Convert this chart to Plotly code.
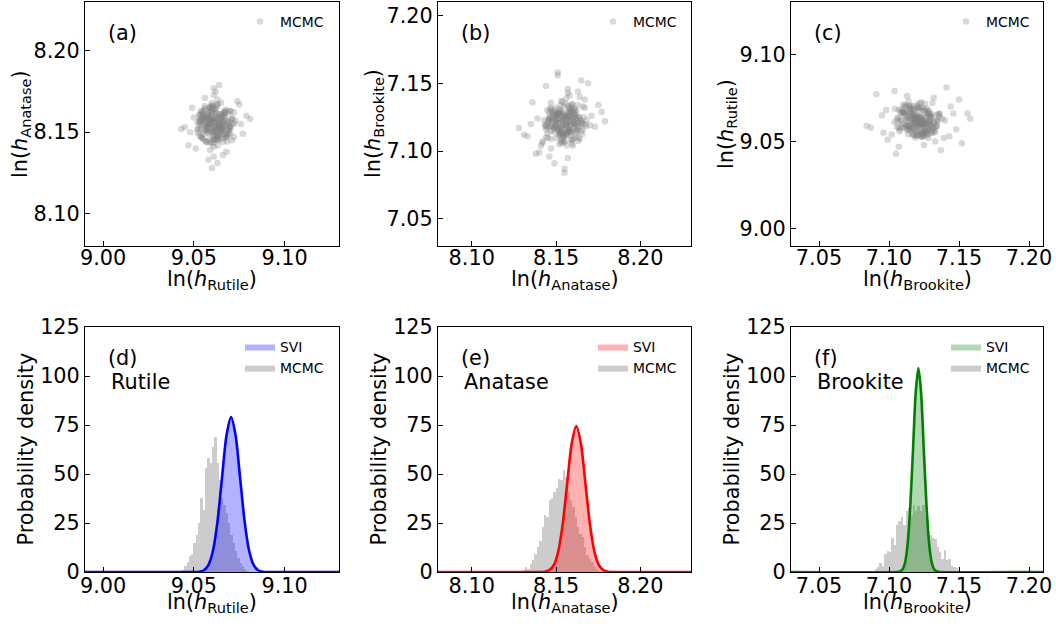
import plotly.graph_objects as go

# ---------------- data ----------------
# MCMC posterior samples (ln h) for the three phases (same sample index in each list)
rutile_samples = [
    9.062, 9.058, 9.066, 9.061, 9.055, 9.069, 9.063, 9.059, 9.064, 9.057,
    9.060, 9.067, 9.052, 9.071, 9.063, 9.061, 9.065, 9.056, 9.070, 9.062,
    9.054, 9.066, 9.059, 9.068, 9.064, 9.058, 9.060, 9.073, 9.050, 9.063,
    9.062, 9.057, 9.066, 9.061, 9.069, 9.055, 9.064, 9.059, 9.067, 9.062,
    9.053, 9.071, 9.060, 9.065, 9.058, 9.063, 9.076, 9.048, 9.061, 9.066,
    9.056, 9.064, 9.059, 9.068, 9.062, 9.054, 9.070, 9.060, 9.057, 9.065,
    9.079, 9.045, 9.063, 9.061, 9.058, 9.066, 9.051, 9.074, 9.062, 9.067,
    9.055, 9.063, 9.060, 9.069, 9.057, 9.064, 9.059, 9.072, 9.053, 9.065,
    9.061, 9.056, 9.068, 9.049, 9.077, 9.062, 9.058, 9.066, 9.043, 9.081,
    9.060, 9.064, 9.055, 9.070, 9.047, 9.075, 9.059, 9.063, 9.067, 9.052,
    9.061, 9.065, 9.058, 9.062, 9.060, 9.064, 9.057, 9.066, 9.063, 9.059,
    9.061, 9.068, 9.054, 9.063, 9.060, 9.066, 9.056, 9.070, 9.062, 9.058,
    9.0573, 9.0648, 9.0536, 9.0691, 9.0617, 9.0584, 9.0662, 9.0549, 9.0706, 9.0602,
    9.0639, 9.0567, 9.0674, 9.0591, 9.0528, 9.0653, 9.0609, 9.0687, 9.0556, 9.0628,
    9.0579, 9.0716, 9.0544, 9.0633, 9.0598, 9.0669, 9.0521, 9.0645, 9.0587, 9.0612,
    9.0679, 9.0562, 9.0624, 9.0547, 9.0701, 9.0593, 9.0657, 9.0575, 9.0619, 9.0538,
    9.0684, 9.0604, 9.0651, 9.0569, 9.0637, 9.0724, 9.0558, 9.0613, 9.0666, 9.0531,
    9.0596, 9.0642, 9.0581, 9.0693, 9.0553, 9.0627, 9.0605, 9.0672, 9.0541, 9.0634,
    9.0589, 9.0711, 9.0566, 9.0621, 9.0658, 9.0534, 9.0601, 9.0677, 9.0572, 9.0646,
    9.0598, 9.0526, 9.0663, 9.0614, 9.0552, 9.0698, 9.0585, 9.0631, 9.0559, 9.0682,
    9.0608, 9.0646, 9.0539, 9.0594, 9.0721, 9.0577, 9.0638, 9.0563, 9.0655, 9.0616,
    9.0545, 9.0688, 9.0603, 9.0571, 9.0649, 9.0532, 9.0626, 9.0669, 9.0588, 9.0611,
    9.0548, 9.0703, 9.0597, 9.0641, 9.0564, 9.0622, 9.0676, 9.0583, 9.0537, 9.0659,
    9.0606, 9.0574, 9.0694, 9.0618, 9.0555, 9.0635, 9.0592, 9.0671, 9.0543, 9.0629,
]
anatase_samples = [
    8.156, 8.149, 8.160, 8.153, 8.158, 8.151, 8.146, 8.162, 8.155, 8.144,
    8.157, 8.163, 8.152, 8.158, 8.167, 8.141, 8.150, 8.156, 8.154, 8.160,
    8.147, 8.152, 8.165, 8.148, 8.161, 8.155, 8.143, 8.157, 8.159, 8.170,
    8.150, 8.153, 8.146, 8.158, 8.162, 8.149, 8.156, 8.139, 8.154, 8.164,
    8.157, 8.145, 8.151, 8.168, 8.160, 8.142, 8.155, 8.150, 8.173, 8.136,
    8.158, 8.152, 8.163, 8.147, 8.154, 8.161, 8.149, 8.166, 8.144, 8.157,
    8.160, 8.153, 8.131, 8.177, 8.155, 8.151, 8.140, 8.169, 8.148, 8.162,
    8.159, 8.145, 8.156, 8.153, 8.164, 8.150, 8.158, 8.147, 8.160, 8.154,
    8.135, 8.171, 8.138, 8.165, 8.149, 8.175, 8.133, 8.157, 8.152, 8.158,
    8.128, 8.179, 8.146, 8.163, 8.142, 8.167, 8.155, 8.151, 8.159, 8.156,
    8.148, 8.161, 8.153, 8.157, 8.150, 8.155, 8.159, 8.152, 8.154, 8.158,
    8.156, 8.150, 8.163, 8.147, 8.161, 8.144, 8.166, 8.152, 8.158, 8.155,
    8.1512, 8.1587, 8.1559, 8.1493, 8.1641, 8.1448, 8.1536, 8.1618, 8.1574, 8.1467,
    8.1529, 8.1603, 8.1482, 8.1656, 8.1541, 8.1597, 8.1438, 8.1563, 8.1509, 8.1672,
    8.1524, 8.1551, 8.1627, 8.1476, 8.1582, 8.1613, 8.1498, 8.1537, 8.1649, 8.1455,
    8.1571, 8.1516, 8.1592, 8.1463, 8.1628, 8.1548, 8.1487, 8.1609, 8.1527, 8.1578,
    8.1442, 8.1664, 8.1519, 8.1586, 8.1471, 8.1553, 8.1632, 8.1505, 8.1568, 8.1479,
    8.1621, 8.1533, 8.1594, 8.1512, 8.1547, 8.1658, 8.1451, 8.1601, 8.1522, 8.1576,
    8.1434, 8.1589, 8.1541, 8.1617, 8.1469, 8.1562, 8.1501, 8.1638, 8.1583, 8.1526,
    8.1679, 8.1514, 8.1557, 8.1461, 8.1605, 8.1532, 8.1571, 8.1492, 8.1646, 8.1548,
    8.1517, 8.1599, 8.1473, 8.1565, 8.1622, 8.1508, 8.1554, 8.1447, 8.1611, 8.1539,
    8.1591, 8.1484, 8.1634, 8.1523, 8.1569, 8.1612, 8.1458, 8.1544, 8.1596, 8.1503,
    8.1575, 8.1531, 8.1653, 8.1489, 8.1558, 8.1615, 8.1466, 8.1537, 8.1584, 8.1511,
    8.1642, 8.1497, 8.1563, 8.1528, 8.1606, 8.1452, 8.1577, 8.1624, 8.1542, 8.1587,
]
brookite_samples = [
    7.135, 7.116, 7.109, 7.129, 7.131, 7.121, 7.124, 7.113, 7.127, 7.118,
    7.125, 7.110, 7.128, 7.120, 7.138, 7.104, 7.117, 7.126, 7.111, 7.122,
    7.102, 7.116, 7.121, 7.126, 7.130, 7.107, 7.123, 7.114, 7.133, 7.119,
    7.121, 7.108, 7.129, 7.132, 7.115, 7.127, 7.119, 7.124, 7.112, 7.140,
    7.143, 7.110, 7.117, 7.123, 7.131, 7.106, 7.113, 7.125, 7.118, 7.136,
    7.116, 7.121, 7.134, 7.109, 7.124, 7.128, 7.114, 7.120, 7.148, 7.095,
    7.104, 7.137, 7.112, 7.129, 7.087, 7.156, 7.099, 7.150, 7.122, 7.126,
    7.130, 7.113, 7.121, 7.127, 7.118, 7.123, 7.115, 7.131, 7.125, 7.119,
    7.120, 7.126, 7.098, 7.152, 7.091, 7.134, 7.111, 7.146, 7.105, 7.141,
    7.117, 7.122, 7.096, 7.144, 7.107, 7.132, 7.084, 7.158, 7.108, 7.139,
    7.118, 7.120, 7.123, 7.116, 7.126, 7.121, 7.114, 7.128, 7.119, 7.124,
    7.124, 7.122, 7.118, 7.115, 7.127, 7.110, 7.133, 7.112, 7.129, 7.125,
    7.1264, 7.1138, 7.1195, 7.1227, 7.1089, 7.1302, 7.1171, 7.1243, 7.1152, 7.1318,
    7.1066, 7.1209, 7.1281, 7.1124, 7.1236, 7.1347, 7.1183, 7.1042, 7.1271, 7.1198,
    7.1129, 7.1255, 7.1163, 7.1294, 7.1217, 7.1101, 7.1189, 7.1362, 7.1146, 7.1228,
    7.1177, 7.1309, 7.1083, 7.1241, 7.1204, 7.1133, 7.1276, 7.1168, 7.1339, 7.1211,
    7.1158, 7.1249, 7.1115, 7.1287, 7.1192, 7.1231, 7.1074, 7.1268, 7.1143, 7.1222,
    7.1296, 7.1181, 7.1057, 7.1239, 7.1325, 7.1162, 7.1214, 7.1283, 7.1137, 7.1258,
    7.1196, 7.1121, 7.1273, 7.1208, 7.1356, 7.1172, 7.1094, 7.1247, 7.1155, 7.1301,
    7.1186, 7.1233, 7.1112, 7.1262, 7.1201, 7.1148, 7.1334, 7.1179, 7.1226, 7.1071,
    7.1291, 7.1164, 7.1243, 7.1117, 7.1219, 7.1277, 7.1132, 7.1198, 7.1312, 7.1059,
    7.1237, 7.1174, 7.1254, 7.1141, 7.1286, 7.1193, 7.1229, 7.1106, 7.1342, 7.1187,
    7.1256, 7.1169, 7.1213, 7.1298, 7.1126, 7.1241, 7.1184, 7.1087, 7.1266, 7.1157,
    7.1232, 7.1319, 7.1203, 7.1134, 7.1251, 7.1176, 7.1289, 7.1149, 7.1224, 7.1196,
]

# MCMC histograms (probability density): first bin centre, bin width, heights
rutile_hist_first = 9.0428
rutile_hist_width = 0.00127
rutile_hist_density = [0.5, 1, 3, 5.3, 8, 9, 14.8, 19, 25, 37.8, 31.8, 53, 58, 55.6, 64,
                       69, 55.6, 47, 37.8, 34, 30, 25, 19, 14.8, 10.5, 7, 4.6, 3, 1.6, 0.5]

anatase_hist_first = 8.1295
anatase_hist_width = 0.0014
anatase_hist_density = [0.5, 0.8, 2.5, 1.7, 4, 6, 9.3, 12.8, 16, 23, 29, 28, 36.6, 38, 41,
                        43, 47.6, 46.8, 51.9, 48.5, 41, 36.6, 33, 28, 23, 19.5, 17.9, 12.8,
                        8.5, 6.8, 5, 2.5, 1.5, 0.5]

brookite_hist_first = 7.0855
brookite_hist_width = 0.0017
brookite_hist_density = [0.3, 0.3, 0.5, 1.5, 2.5, 4.7, 3, 9, 10.7, 10, 17.6, 14, 24, 26, 28,
                         24, 31, 32.6, 29, 34, 31, 33.7, 31, 34, 28, 22, 19, 17.6, 16.8, 12.6,
                         10, 6.8, 11, 6, 6.8, 3, 2.5, 1.8, 1, 0.5]

# SVI posterior densities
rutile_svi_x = [8.99, 9.050, 9.053, 9.0555, 9.058, 9.0605, 9.063, 9.0655, 9.068, 9.0705,
                9.073, 9.0755, 9.078, 9.0805, 9.083, 9.0855, 9.088, 9.091, 9.13]
rutile_svi_y = [0, 0, 0.17, 0.88, 3.5, 10.7, 25.6, 47.9, 69.7, 79,
                69.7, 47.9, 25.6, 10.7, 3.5, 0.88, 0.17, 0, 0]
anatase_svi_x = [8.08, 8.140, 8.1431, 8.1458, 8.1485, 8.1512, 8.1539, 8.1566, 8.1593, 8.162,
                 8.1647, 8.1674, 8.1701, 8.1728, 8.1755, 8.1782, 8.1809, 8.184, 8.23]
anatase_svi_y = [0, 0, 0.16, 0.83, 3.3, 10.1, 24.2, 45.2, 65.7, 74.5,
                 65.7, 45.2, 24.2, 10.1, 3.3, 0.83, 0.16, 0, 0]
brookite_svi_x = [7.03, 7.105, 7.1076, 7.1095, 7.1114, 7.1133, 7.1152, 7.1172, 7.1191, 7.121,
                  7.1229, 7.1248, 7.1268, 7.1287, 7.1306, 7.1325, 7.1344, 7.137, 7.21]
brookite_svi_y = [0, 0, 0.23, 1.15, 4.6, 14.1, 33.8, 63.1, 91.8, 104,
                  91.8, 63.1, 33.8, 14.1, 4.6, 1.15, 0.23, 0, 0]

# axis ranges and ticks
rutile_range = [8.99, 9.13]
anatase_range = [8.08, 8.23]
brookite_range = [7.03, 7.21]
density_range = [0, 125]
rutile_ticks = [9.00, 9.05, 9.10]
anatase_ticks = [8.10, 8.15, 8.20]
brookite_ticks = [7.05, 7.10, 7.15, 7.20]
density_ticks = [0, 25, 50, 75, 100, 125]

phase_names = ["Rutile", "Anatase", "Brookite"]
panel_labels = ["(a)", "(b)", "(c)", "(d)", "(e)", "(f)"]
density_label = "Probability density"

# ---------------- styling ----------------
W, H = 1056, 630
FONT = "DejaVu Sans"
TICK_SIZE = 20.8
LEG_SIZE = 13.9
col_px = [(85, 339), (438, 691), (791, 1043)]   # px of frames
row_px = [(2, 246), (327, 572)]
xtitle_y = [280, 603]
ytitle_dx = [64, 60]
xlabel_standoff = [-7, -5]

def fx(px):
    return px / W

def fy(py):
    return 1 - py / H

def xdom(c):
    return [fx(col_px[c][0]), fx(col_px[c][1])]

def ydom(r):
    return [fy(row_px[r][1]), fy(row_px[r][0])]

def lnh(name):
    return "ln(<i>h</i><sub>%s</sub>)" % name

def axis(domain, rng, ticks, fmt, anchor, standoff=0):
    return dict(domain=domain, range=rng, tickvals=ticks, tickformat=fmt,
                ticks="inside", ticklen=5, tickwidth=1, tickcolor="black",
                showline=True, linecolor="black", linewidth=1, mirror=True,
                showgrid=False, zeroline=False, anchor=anchor, automargin=False,
                ticklabelstandoff=standoff,
                tickfont=dict(family=FONT, size=TICK_SIZE, color="black"))

fig = go.Figure()

# ---- top row: scatter clouds ----
scatter_pairs = [
    (rutile_samples, anatase_samples),
    (anatase_samples, brookite_samples),
    (brookite_samples, rutile_samples),
]
for i, (xs, ys) in enumerate(scatter_pairs):
    k = "" if i == 0 else str(i + 1)
    fig.add_trace(go.Scatter(
        x=xs, y=ys, mode="markers", name="MCMC",
        marker=dict(color="rgb(128,128,128)", size=6.5, opacity=0.3, line=dict(width=0)),
        xaxis="x" + k, yaxis="y" + k, legend="legend" + k))

# ---- bottom row: histograms + SVI ----
hist_sets = [
    (rutile_hist_first, rutile_hist_width, rutile_hist_density, rutile_svi_x, rutile_svi_y,
     "rgb(0,0,255)", "rgba(0,0,255,0.3)"),
    (anatase_hist_first, anatase_hist_width, anatase_hist_density, anatase_svi_x, anatase_svi_y,
     "rgb(255,0,0)", "rgba(255,0,0,0.3)"),
    (brookite_hist_first, brookite_hist_width, brookite_hist_density, brookite_svi_x, brookite_svi_y,
     "rgb(0,128,0)", "rgba(0,128,0,0.3)"),
]
for i, (first, bw, dens, sx, sy, lc, fc) in enumerate(hist_sets):
    k = str(i + 4)
    centers = [first + j * bw for j in range(len(dens))]
    fig.add_trace(go.Bar(
        x=centers, y=dens, width=bw, marker=dict(color="rgba(128,128,128,0.4)", line=dict(width=0)),
        showlegend=False, xaxis="x" + k, yaxis="y" + k))
    fig.add_trace(go.Scatter(
        x=sx, y=sy, mode="lines", name="SVI", fill="tozeroy", fillcolor=fc,
        line=dict(width=0, shape="spline", smoothing=0.8),
        xaxis="x" + k, yaxis="y" + k, legend="legend" + k))
    fig.add_trace(go.Scatter(
        x=sx, y=sy, mode="lines", line=dict(color=lc, width=2.6, shape="spline", smoothing=0.8),
        showlegend=False, xaxis="x" + k, yaxis="y" + k))
    fig.add_trace(go.Scatter(
        x=[None], y=[None], mode="lines", name="MCMC", fill="toself",
        fillcolor="rgba(128,128,128,0.4)", line=dict(width=0),
        xaxis="x" + k, yaxis="y" + k, legend="legend" + k))

# ---- axes ----
x_ranges = [rutile_range, anatase_range, brookite_range]
x_ticks = [rutile_ticks, anatase_ticks, brookite_ticks]
y_top_ranges = [anatase_range, brookite_range, rutile_range]
y_top_ticks = [anatase_ticks, brookite_ticks, rutile_ticks]
y_top_names = ["Anatase", "Brookite", "Rutile"]

layout = dict(width=W, height=H, margin=dict(l=0, r=0, t=0, b=0, autoexpand=False),
              paper_bgcolor="white", plot_bgcolor="white", bargap=0, barmode="overlay",
              showlegend=True)
for i in range(3):
    k = "" if i == 0 else str(i + 1)
    layout["xaxis" + k] = axis(xdom(i), x_ranges[i], x_ticks[i], ".2f", "y" + k,
                               xlabel_standoff[0])
    layout["yaxis" + k] = axis(ydom(0), y_top_ranges[i], y_top_ticks[i], ".2f", "x" + k)
    k2 = str(i + 4)
    layout["xaxis" + k2] = axis(xdom(i), x_ranges[i], x_ticks[i], ".2f", "y" + k2,
                                xlabel_standoff[1])
    layout["yaxis" + k2] = axis(ydom(1), density_range, density_ticks, "d", "x" + k2)

# legends
for i in range(6):
    k = "" if i == 0 else str(i + 1)
    c = i % 3
    r = i // 3
    lx = fx(col_px[c][0] + 155)
    ly = fy(row_px[r][0] + 4)
    layout["legend" + k] = dict(x=lx, y=ly, xanchor="left", yanchor="top",
                                bgcolor="rgba(0,0,0,0)", borderwidth=0,
                                font=dict(family=FONT, size=LEG_SIZE, color="black"),
                                tracegroupgap=0)

annotations = []
txtfont = dict(family=FONT, size=TICK_SIZE, color="black")
for i in range(6):
    c = i % 3
    r = i // 3
    x0, x1 = col_px[c]
    y0, y1 = row_px[r]
    annotations.append(dict(text=panel_labels[i], xref="paper", yref="paper",
                            x=fx(x0 + 21), y=fy(y0 + 31),
                            xanchor="left", yanchor="middle", showarrow=False, font=txtfont))
    if r == 1:
        annotations.append(dict(text=phase_names[c], xref="paper", yref="paper",
                                x=fx(x0 + 24), y=fy(y0 + 55),
                                xanchor="left", yanchor="middle", showarrow=False, font=txtfont))
    # x-axis title
    annotations.append(dict(text=lnh(phase_names[c]), xref="paper", yref="paper",
                            x=fx((x0 + x1) / 2), y=fy(xtitle_y[r]),
                            xanchor="center", yanchor="middle", showarrow=False, font=txtfont))
    # y-axis title
    ytxt = lnh(y_top_names[c]) if r == 0 else density_label
    annotations.append(dict(text=ytxt, xref="paper", yref="paper", textangle=-90,
                            x=fx(x0 - ytitle_dx[r]), y=fy((y0 + y1) / 2),
                            xanchor="center", yanchor="middle", showarrow=False, font=txtfont))
layout["annotations"] = annotations

fig.update_layout(**layout)
fig.write_html("out.html", config={"displayModeBar": False},
               post_script="document.body.style.margin='0px';")
